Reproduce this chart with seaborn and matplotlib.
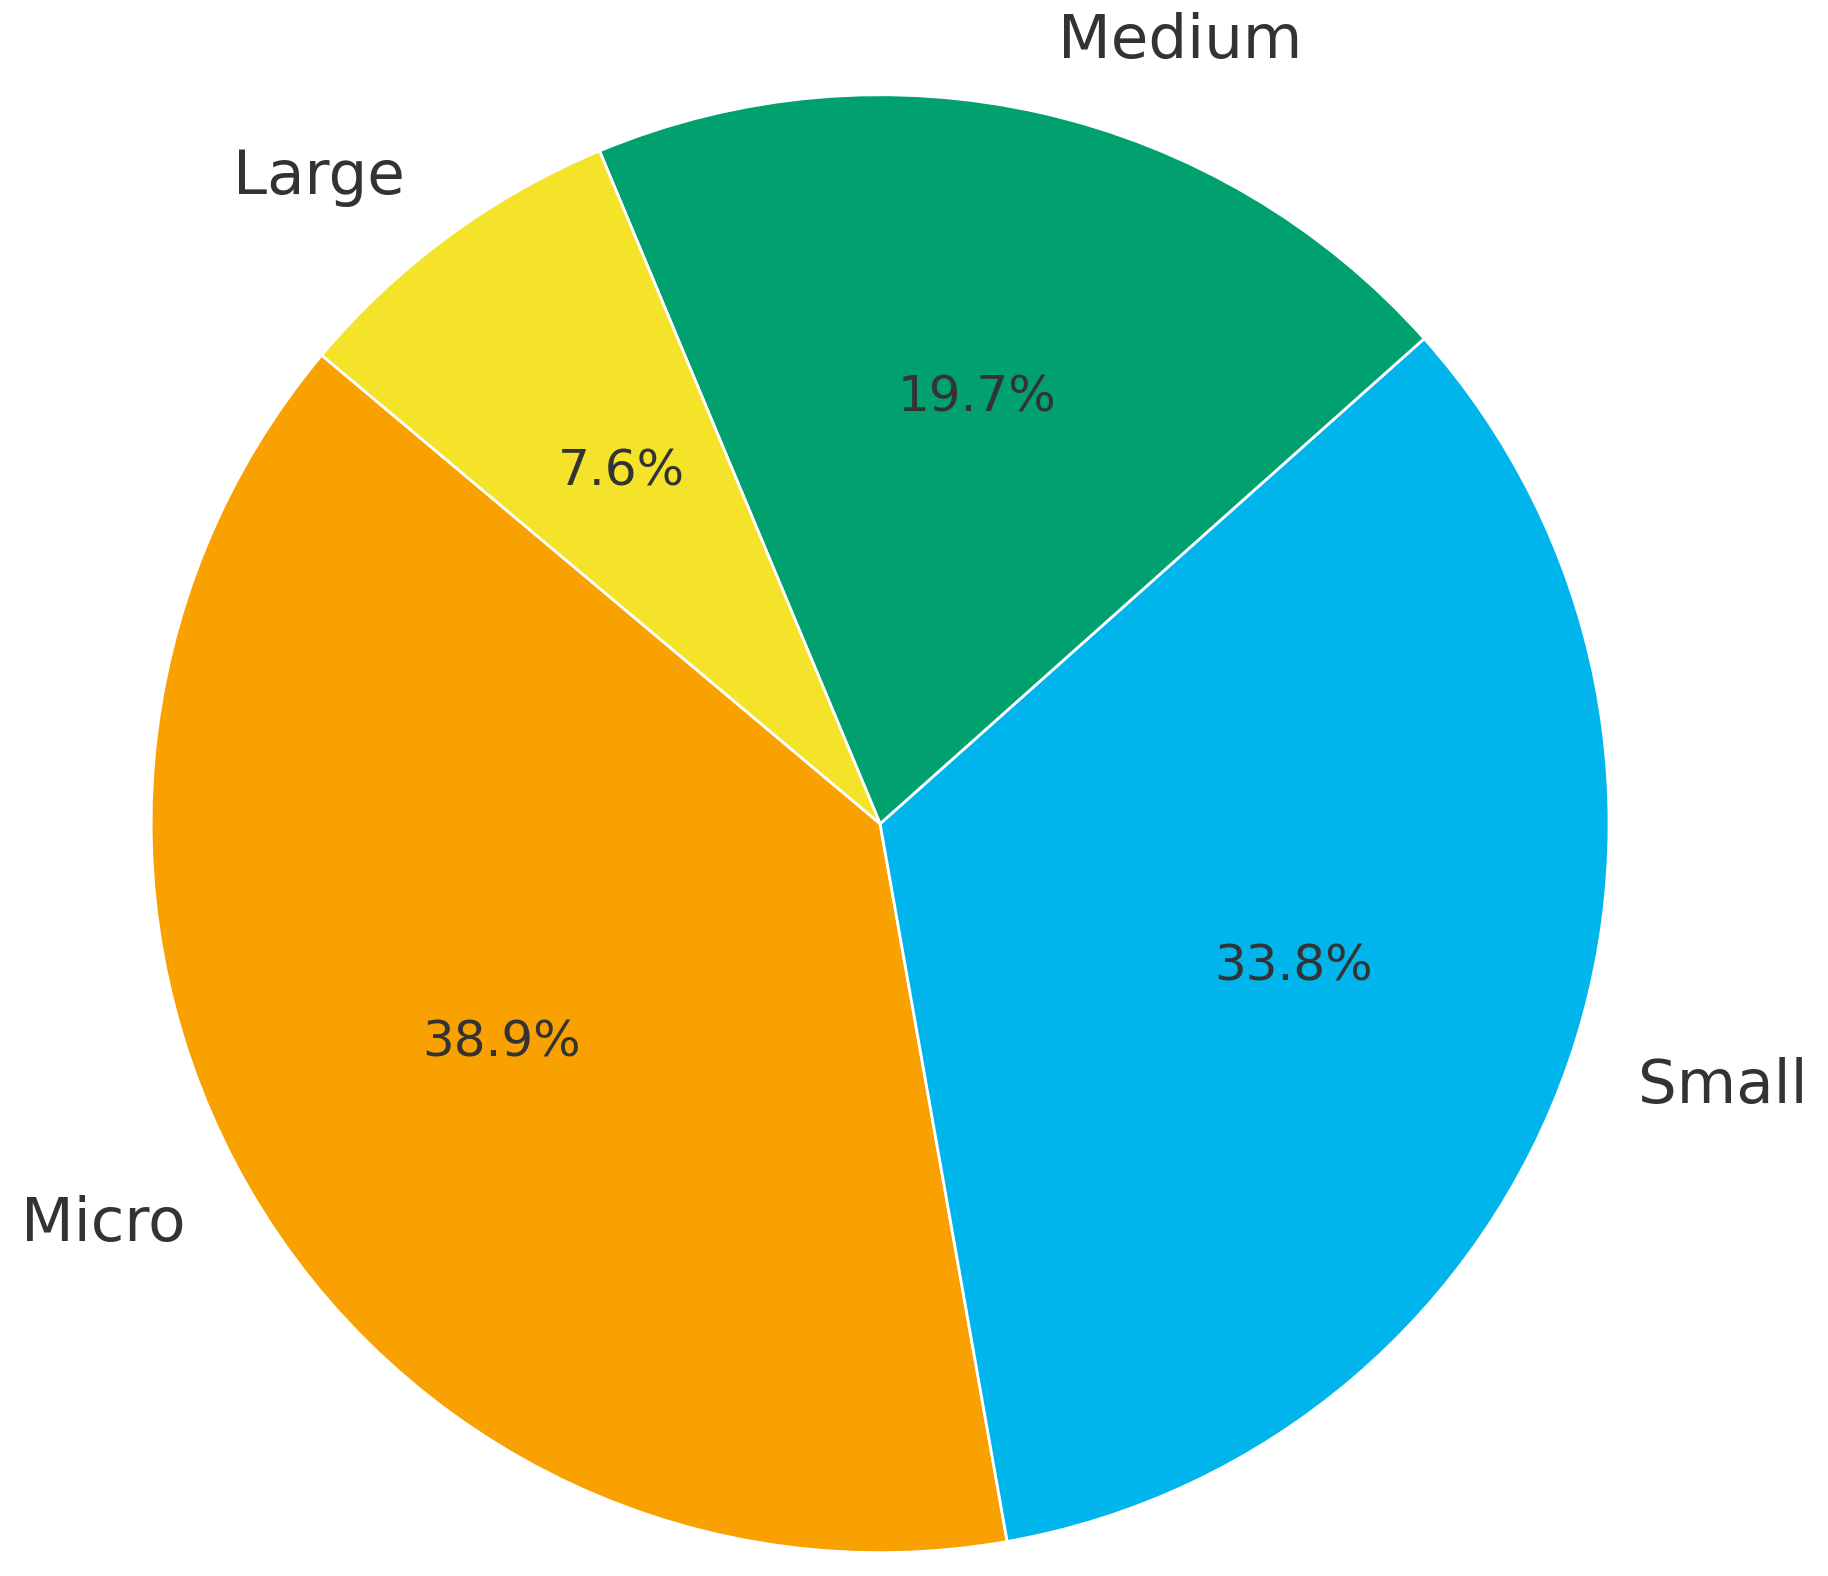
import matplotlib
matplotlib.use("Agg")
import matplotlib.pyplot as plt
import seaborn as sns

sns.set_theme(style="white")
plt.rcParams['font.family'] = ['DejaVu Sans']

categories = ["Micro", "Small", "Medium", "Large"]
shares = [38.9, 33.8, 19.7, 7.6]
colors = ["#F9A100", "#00B5EC", "#00A06F", "#F4E328"]

fig = plt.figure(figsize=(9.14, 7.88), dpi=200)
ax = fig.add_axes([0, 0, 1, 1])
wedges, texts, autotexts = ax.pie(shares, labels=categories, colors=colors, startangle=140,
                                  counterclock=True, autopct="%.1f%%", pctdistance=0.6,
                                  labeldistance=1.1, textprops={"color": "#333333"})
for t in texts:
    t.set_fontsize(22)
for t in autotexts:
    t.set_fontsize(18)
ax.set_aspect("equal")
ax.set_xlim(-1.207, 1.300)
ax.set_ylim(-1.032, 1.130)
ax.axis("off")
fig.savefig("out.png", dpi=200)
